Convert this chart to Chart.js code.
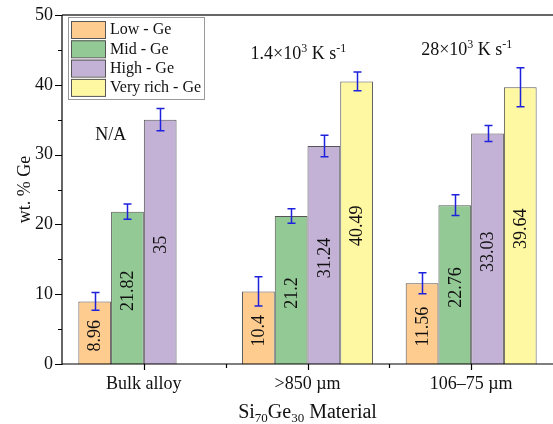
<!DOCTYPE html>
<html>
<head>
<meta charset="utf-8">
<script src="https://cdn.jsdelivr.net/npm/chart.js@4.4.0/dist/chart.umd.min.js"></script>
<style>
  html, body { margin: 0; padding: 0; background: #fff; }
  #wrap { width: 553px; height: 424px; }
</style>
</head>
<body>
<div id="wrap"><canvas id="c" width="553" height="424"></canvas></div>
<script>
// categories and series (wt. % Ge)
const categories = ['Bulk alloy', '>850 µm', '106–75 µm'];
const seriesNames = ['Low - Ge', 'Mid - Ge', 'High - Ge', 'Very rich - Ge'];
const lowGe = [8.96, 10.4, 11.56];
const midGe = [21.82, 21.2, 22.76];
const highGe = [35, 31.24, 33.03];
const veryRichGe = [null, 40.49, 39.64];
// error bar half-widths
const lowGeErr = [1.27, 2.1, 1.5];
const midGeErr = [1.1, 1.05, 1.5];
const highGeErr = [1.6, 1.55, 1.15];
const veryRichGeErr = [null, 1.35, 2.8];
const yTicks = [0, 10, 20, 30, 40, 50];

const colors = ['#ffcc8f', '#93c995', '#c3b2d6', '#fff8a3'];
const FONT = '"Liberation Serif", "Times New Roman", serif';

const values = [lowGe, midGe, highGe, veryRichGe];
const errors = [lowGeErr, midGeErr, highGeErr, veryRichGeErr];

const datasets = seriesNames.map((name, i) => ({
  label: name,
  data: values[i],
  errors: errors[i],
  backgroundColor: colors[i],
  borderColor: '#555',
  borderWidth: 1,
  categoryPercentage: 0.8,
  barPercentage: 1.0
}));

// axes, minor ticks, frame
const framePlugin = {
  id: 'frame',
  afterDraw(chart) {
    const ctx = chart.ctx, a = chart.chartArea;
    const xs = chart.scales.x, ys = chart.scales.y;
    ctx.save();
    // top border
    ctx.strokeStyle = '#666';
    ctx.lineWidth = 2;
    ctx.beginPath();
    ctx.moveTo(a.left, a.top); ctx.lineTo(chart.width, a.top);
    ctx.stroke();
    ctx.strokeStyle = '#000';
    ctx.lineWidth = 1.2;
    ctx.beginPath();
    ctx.moveTo(a.left, a.top); ctx.lineTo(a.left, a.bottom + 1);
    ctx.moveTo(a.left, a.bottom); ctx.lineTo(chart.width, a.bottom);
    // y ticks
    for (let v = 0; v <= 50; v += 5) {
      const y = Math.round(ys.getPixelForValue(v)) + 0.5;
      ctx.moveTo(a.left - (v % 10 === 0 ? 7 : 4), y);
      ctx.lineTo(a.left, y);
    }
    // x ticks: major at centres, minor at boundaries
    categories.forEach((c, i) => {
      const x = Math.round(xs.getPixelForValue(i)) + 0.5;
      ctx.moveTo(x, a.bottom); ctx.lineTo(x, a.bottom + 6);
      if (i > 0) {
        const xb = Math.round((xs.getPixelForValue(i) + xs.getPixelForValue(i - 1)) / 2) + 0.5;
        ctx.moveTo(xb, a.bottom); ctx.lineTo(xb, a.bottom + 4);
      }
    });
    ctx.stroke();
    ctx.restore();
  }
};

// error bars and value labels
const barExtras = {
  id: 'barExtras',
  afterDatasetsDraw(chart) {
    const ctx = chart.ctx, ys = chart.scales.y;
    ctx.save();
    chart.data.datasets.forEach((ds, di) => {
      const meta = chart.getDatasetMeta(di);
      meta.data.forEach((bar, i) => {
        const v = ds.data[i];
        if (v == null) return;
        // label
        ctx.save();
        ctx.translate(bar.x, (bar.y + bar.base) / 2);
        ctx.rotate(-Math.PI / 2);
        ctx.fillStyle = '#111';
        ctx.font = '18px ' + FONT;
        ctx.textAlign = 'center';
        ctx.textBaseline = 'middle';
        ctx.fillText(String(v), -3, 1);
        ctx.restore();
        // error bar
        const e = ds.errors[i];
        if (e == null) return;
        const yt = ys.getPixelForValue(v + e), yb = ys.getPixelForValue(v - e);
        const x = Math.round(bar.x) + 0.5;
        ctx.strokeStyle = '#1f22dd';
        ctx.lineWidth = 1.5;
        ctx.beginPath();
        ctx.moveTo(x, yt); ctx.lineTo(x, yb);
        ctx.moveTo(x - 4, yt); ctx.lineTo(x + 4, yt);
        ctx.moveTo(x - 4, yb); ctx.lineTo(x + 4, yb);
        ctx.stroke();
      });
    });
    ctx.restore();
  }
};

function drawRich(ctx, parts, x, y) {
  parts.forEach(p => {
    ctx.font = p.size + 'px ' + FONT;
    ctx.fillText(p.t, x, y + (p.dy || 0));
    x += ctx.measureText(p.t).width;
  });
}
function richWidth(ctx, parts) {
  return parts.reduce((w, p) => { ctx.font = p.size + 'px ' + FONT; return w + ctx.measureText(p.t).width; }, 0);
}

// legend, annotations, x title
const textPlugin = {
  id: 'texts',
  afterDraw(chart) {
    const ctx = chart.ctx, xs = chart.scales.x, ys = chart.scales.y, a = chart.chartArea;
    ctx.save();
    // legend
    ctx.fillStyle = '#fff';
    ctx.fillRect(68, 17, 136, 82);
    ctx.strokeStyle = '#999';
    ctx.lineWidth = 1;
    ctx.strokeRect(68.5, 17.5, 136, 82);
    chart.data.datasets.forEach((ds, i) => {
      const y = 21 + i * 19.3;
      ctx.fillStyle = ds.backgroundColor;
      ctx.fillRect(71, y, 34, 17);
      ctx.strokeStyle = '#555';
      ctx.strokeRect(71.5, y + 0.5, 34, 17);
      ctx.fillStyle = '#111';
      ctx.font = '16px ' + FONT;
      ctx.textBaseline = 'middle';
      ctx.textAlign = 'left';
      ctx.fillText(ds.label, 110, y + 9);
    });
    // annotations
    ctx.fillStyle = '#111';
    ctx.textBaseline = 'alphabetic';
    ctx.font = '18px ' + FONT;
    ctx.textAlign = 'center';
    ctx.fillText('N/A', xs.getPixelForValue(0) - 33, ys.getPixelForValue(33) + 6);
    ctx.textAlign = 'left';
    drawRich(ctx, [
      { t: '1.4×10', size: 18 }, { t: '3', size: 12, dy: -7 },
      { t: ' K s', size: 18 }, { t: '-1', size: 12, dy: -7 }
    ], xs.getPixelForValue(1) - 57, 59);
    drawRich(ctx, [
      { t: '28×10', size: 18 }, { t: '3', size: 12, dy: -7 },
      { t: ' K s', size: 18 }, { t: '-1', size: 12, dy: -7 }
    ], xs.getPixelForValue(2) - 50, 55);
    // x title with subscripts
    const tparts = [
      { t: 'Si', size: 20 }, { t: '70', size: 13, dy: 4 },
      { t: 'Ge', size: 20 }, { t: '30', size: 13, dy: 4 },
      { t: ' Material', size: 20 }
    ];
    drawRich(ctx, tparts, (a.left + a.right) / 2 - richWidth(ctx, tparts) / 2, 418);
    ctx.restore();
  }
};

new Chart(document.getElementById('c'), {
  type: 'bar',
  data: { labels: categories, datasets: datasets },
  options: {
    responsive: false,
    devicePixelRatio: 1,
    animation: false,
    layout: { padding: { left: 0, top: 15, right: 0, bottom: 0 } },
    plugins: { legend: { display: false }, tooltip: { enabled: false } },
    scales: {
      x: {
        grid: { display: false },
        border: { display: false },
        ticks: { color: '#111', font: { family: FONT, size: 18 }, padding: 1, maxRotation: 0 },
        afterFit: s => { s.height = 60; }
      },
      y: {
        min: 0, max: 50,
        afterBuildTicks: s => { s.ticks = yTicks.map(v => ({ value: v })); },
        grid: { display: false },
        border: { display: false },
        ticks: { color: '#111', font: { family: FONT, size: 18 }, padding: 1 },
        title: { display: true, text: 'wt. % Ge', color: '#111', font: { family: FONT, size: 18 }, padding: { top: 14, bottom: 0 } },
        afterFit: s => { s.width = 62; }
      }
    }
  },
  plugins: [framePlugin, barExtras, textPlugin]
});
</script>
</body>
</html>
